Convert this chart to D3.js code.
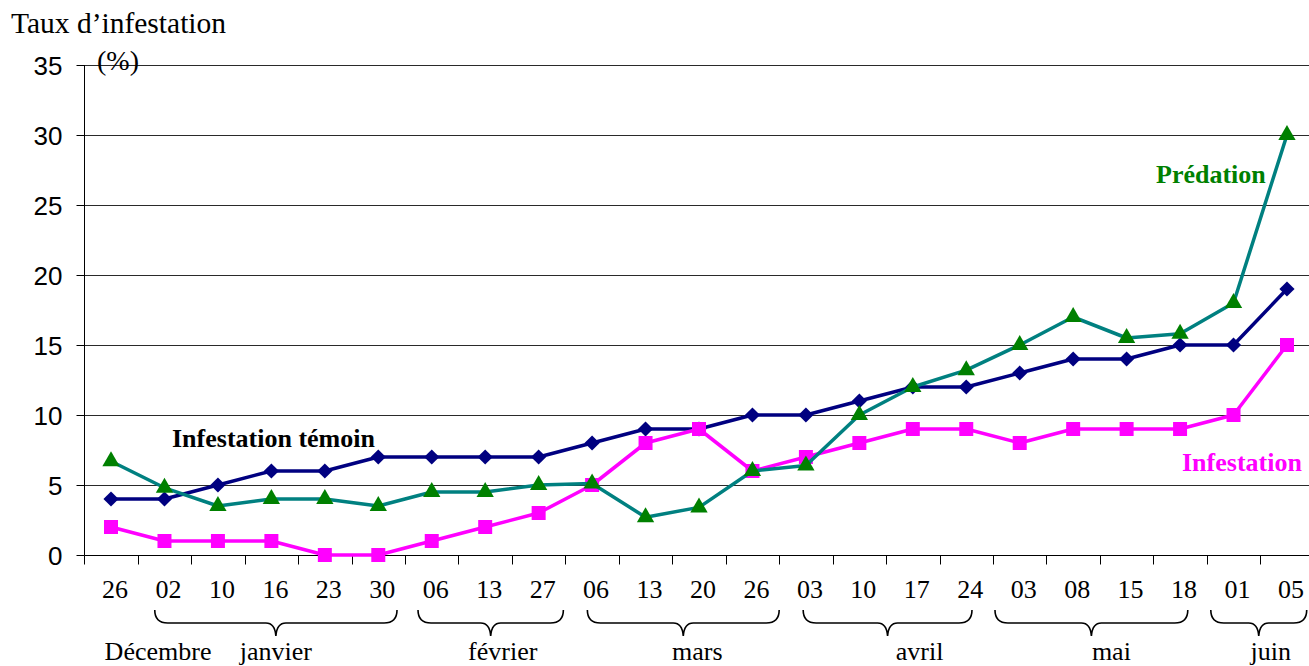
<!DOCTYPE html>
<html lang="fr">
<head>
<meta charset="utf-8">
<script src="https://cdn.jsdelivr.net/npm/d3@7"></script>
<style>
  html, body { margin: 0; padding: 0; background: #fff; }
  svg { display: block; }
</style>
</head>
<body>
<svg id="chart" width="1309" height="666"></svg>
<script>
// Sampling dates (day of month), in chronological order
const dates = ["26","02","10","16","23","30","06","13","27","06","13","20","26",
               "03","10","17","24","03","08","15","18","01","05"];

// Infestation rate (%) per sampling date
const temoin     = [4, 4, 5, 6, 6, 7, 7, 7, 7, 8, 9, 9, 10, 10, 11, 12, 12, 13, 14, 14, 15, 15, 19];
const predation  = [6.7, 4.8, 3.5, 4, 4, 3.5, 4.5, 4.5, 5, 5.1, 2.7, 3.4, 6, 6.4, 10, 12, 13.2, 15, 17, 15.5, 15.8, 18, 30];
const infestation = [2, 1, 1, 1, 0, 0, 1, 2, 3, 5, 8, 9, 6, 7, 8, 9, 9, 8, 9, 9, 9, 10, 15];

// Months: first and last sampling index covered
const monthNames = ["Décembre", "janvier", "février", "mars", "avril", "mai", "juin"];
const monthFirst = [0, 1, 6, 9, 13, 17, 21];
const monthLast  = [0, 5, 8, 12, 16, 20, 22];

const yTicks = [0, 5, 10, 15, 20, 25, 30, 35];

// ---- layout ----
const svg = d3.select("#chart");
const plotL = 84.3, plotR = 1313.7, plotT = 65, plotB = 555;
const serif = "'Liberation Serif', 'Times New Roman', serif";
const sans = "'Liberation Sans', Arial, sans-serif";

const x = d3.scaleBand().domain(d3.range(dates.length)).range([plotL, plotR]).padding(0);
const cx = i => x(i) + x.bandwidth() / 2;
const y = d3.scaleLinear().domain([0, 35]).range([plotB, plotT]);

// horizontal gridlines
svg.append("g")
  .selectAll("line")
  .data(yTicks.filter(t => t > 0))
  .join("line")
  .attr("x1", plotL).attr("x2", plotR)
  .attr("y1", d => Math.round(y(d)) + 0.5).attr("y2", d => Math.round(y(d)) + 0.5)
  .attr("stroke", "#2a2a2a").attr("stroke-width", 1);

// y axis
const yAxis = svg.append("g")
  .attr("transform", `translate(${Math.round(plotL) + 0.5},0)`)
  .call(d3.axisLeft(y).tickValues(yTicks).tickSize(8).tickPadding(14).tickFormat(d3.format("d")));
yAxis.select(".domain").attr("stroke", "#000").attr("d", `M0,${plotT}V${plotB}`);
yAxis.selectAll(".tick line").attr("stroke", "#000");
yAxis.selectAll(".tick text")
  .attr("font-family", sans).attr("font-size", 26).attr("fill", "#000").attr("dy", "0.36em");

// x axis: ticks between categories
const xAxisG = svg.append("g").attr("transform", `translate(0,${Math.round(plotB) + 0.5})`);
xAxisG.append("line").attr("x1", plotL).attr("x2", plotR).attr("y1", 0).attr("y2", 0)
  .attr("stroke", "#000");
xAxisG.selectAll("line.tk")
  .data(d3.range(dates.length + 1))
  .join("line").attr("class", "tk")
  .attr("x1", i => Math.round(i < dates.length ? x(i) : plotR) + 0.5)
  .attr("x2", i => Math.round(i < dates.length ? x(i) : plotR) + 0.5)
  .attr("y1", 0).attr("y2", 9)
  .attr("stroke", "#000");
xAxisG.selectAll("text")
  .data(dates)
  .join("text")
  .attr("x", (d, i) => cx(i) + 4).attr("y", 42)
  .attr("text-anchor", "middle")
  .attr("font-family", serif).attr("font-size", 26).attr("fill", "#000")
  .text(d => d);

// month braces and labels
const braceInset = [null, [17, 8], [13, 2], [22, 0], [24, 21], [2, 19], [4, 7]];
const labelDx = [47, 0, 12, 14, 32, 20, 12];
const bTop = 610, bMid = 623, bTip = 636, rad = 13;

function bracePath(x0, x1) {
  const m = (x0 + x1) / 2;
  return `M${x0},${bTop} Q${x0},${bMid} ${x0 + rad},${bMid} L${m - 10},${bMid}` +
         ` Q${m - 1},${bMid} ${m},${bTip} Q${m + 1},${bMid} ${m + 10},${bMid}` +
         ` L${x1 - rad},${bMid} Q${x1},${bMid} ${x1},${bTop}`;
}

monthNames.forEach((name, k) => {
  const bandL = x(monthFirst[k]);
  const bandR = x(monthLast[k]) + x.bandwidth();
  let mid;
  if (braceInset[k]) {
    const x0 = bandL + braceInset[k][0], x1 = bandR - braceInset[k][1];
    mid = (x0 + x1) / 2;
    svg.append("path").attr("d", bracePath(x0, x1))
      .attr("fill", "none").attr("stroke", "#000").attr("stroke-width", 1.6);
  } else {
    mid = cx(monthFirst[k]);
  }
  svg.append("text")
    .attr("x", mid + labelDx[k]).attr("y", 660)
    .attr("text-anchor", "middle")
    .attr("font-family", serif).attr("font-size", 26).attr("fill", "#000")
    .text(name);
});

// markers: a square rotated 45° for the diamond
const diamond = {
  draw(ctx, size) {
    const h = Math.sqrt(size / 2);
    ctx.moveTo(0, -h); ctx.lineTo(h, 0); ctx.lineTo(0, h); ctx.lineTo(-h, 0); ctx.closePath();
  }
};

// series
const line = d3.line().x((d, i) => cx(i)).y(d => y(d));

function drawSeries(values, lineColor, markerColor, symbolType, size) {
  svg.append("path").datum(values)
    .attr("d", line)
    .attr("fill", "none").attr("stroke", lineColor).attr("stroke-width", 3.5)
    .attr("stroke-linejoin", "round");
  svg.append("g").selectAll("path")
    .data(values)
    .join("path")
    .attr("transform", (d, i) => `translate(${cx(i)},${y(d)})`)
    .attr("d", d3.symbol().type(symbolType).size(size))
    .attr("fill", markerColor);
}

drawSeries(temoin, "#000080", "#000080", diamond, 115);
drawSeries(infestation, "#FF00FF", "#FF00FF", d3.symbolSquare, 196);
drawSeries(predation, "#008080", "#008000", d3.symbolTriangle, 130);

// series labels
svg.append("text").attr("x", 172).attr("y", 447)
  .attr("font-family", serif).attr("font-size", 26).attr("font-weight", "bold").attr("fill", "#000")
  .text("Infestation témoin");
svg.append("text").attr("x", 1156).attr("y", 183)
  .attr("font-family", serif).attr("font-size", 26).attr("font-weight", "bold").attr("fill", "#008000")
  .text("Prédation");
svg.append("text").attr("x", 1182).attr("y", 471)
  .attr("font-family", serif).attr("font-size", 26).attr("font-weight", "bold").attr("fill", "#FF00FF")
  .text("Infestation");

// axis title
svg.append("text").attr("x", 11).attr("y", 33)
  .attr("font-family", serif).attr("font-size", 29.5).attr("fill", "#000")
  .text("Taux d’infestation");
svg.append("text").attr("x", 97).attr("y", 70)
  .attr("font-family", serif).attr("font-size", 28).attr("fill", "#000")
  .text("(%)");
</script>
</body>
</html>
